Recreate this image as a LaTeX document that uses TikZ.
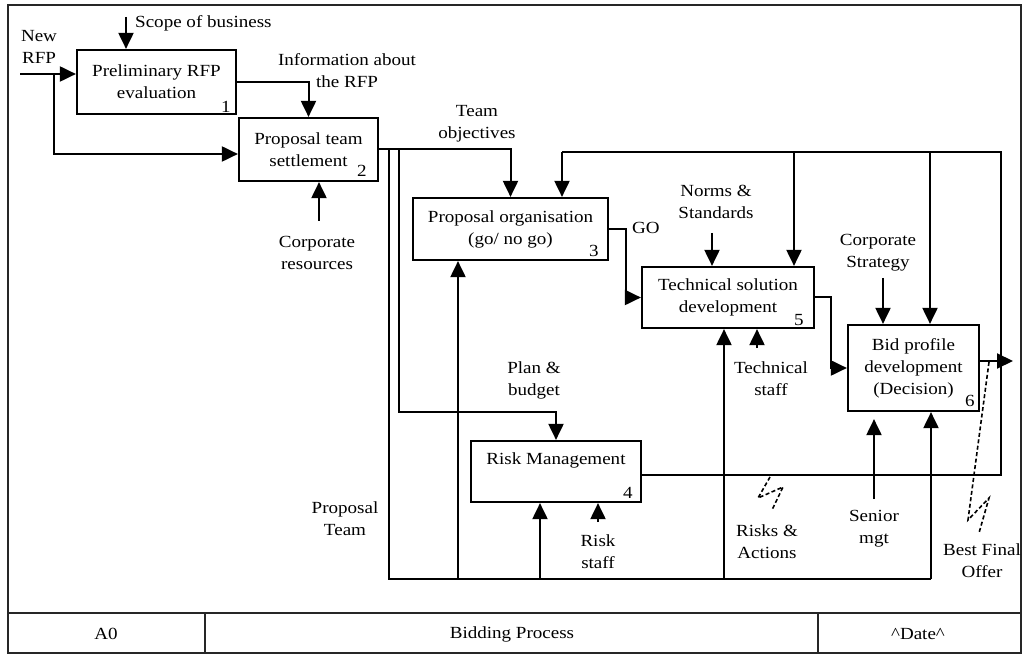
\documentclass[tikz,border=0pt]{standalone}
\usepackage{fontspec}
\setmainfont{Liberation Serif}[FakeStretch=1.12]
\usetikzlibrary{arrows.meta}

\tikzset{
  every node/.style={font=\fontsize{17}{22}\selectfont},
  actbox/.style={draw, line width=2.2pt, inner sep=0pt, align=center},
  lbl/.style={inner sep=0pt, align=center},
  conn/.style={line width=2pt},
  arr/.style={conn, -{Triangle[length=16pt,width=15pt]}},
  squig/.style={line width=1.6pt, dash pattern=on 4pt off 2.5pt},
  frame/.style={line width=2.4pt, draw=black!85}
}

\begin{document}
\begin{tikzpicture}[x=1pt, y=-1pt]
\useasboundingbox (0,0) rectangle (1026,655);

% ---- outer frame and title strip ----
\draw[frame] (8,5) rectangle (1021,653);
\draw[frame] (8,613) -- (1021,613);
\draw[frame] (205,613) -- (205,653);
\draw[frame] (818,613) -- (818,653);
\node[lbl] (nodeid) at (106,634) {A0};
\node[lbl] (title) at (512,634) {Bidding Process};
\node[lbl] (date) at (918,634) {\textasciicircum Date\textasciicircum};

% ---- activity boxes ----
\node[actbox, minimum width=159pt, minimum height=64pt] (b1) at (156.5,82) {Preliminary RFP\\evaluation};
\node[actbox, minimum width=139pt, minimum height=63pt] (b2) at (308.5,149.5) {Proposal team\\settlement};
\node[actbox, minimum width=195pt, minimum height=62pt] (b3) at (510.5,229) {Proposal organisation\\(go/ no go)};
\node[actbox, minimum width=170pt, minimum height=61pt] (b4) at (556,471.5) {};
\node[actbox, minimum width=172pt, minimum height=61pt] (b5) at (728,297.5) {Technical solution\\development};
\node[actbox, minimum width=131pt, minimum height=86pt] (b6) at (913.5,368) {Bid profile\\development\\(Decision)};
\node[lbl] (b4txt) at (556,460) {Risk Management};

% box numbers
\node[lbl] (n1) at (226,107) {1};
\node[lbl] (n2) at (362,171) {2};
\node[lbl] (n3) at (594,251) {3};
\node[lbl] (n4) at (628,493) {4};
\node[lbl] (n5) at (799,320) {5};
\node[lbl] (n6) at (970,401) {6};

% ---- labels ----
\node[lbl] (lnew) at (39,47) {New\\RFP};
\node[lbl, anchor=west] (lscope) at (135,23) {Scope of business};
\node[lbl] (linfo) at (347,71) {Information about\\the RFP};
\node[lbl] (lcorpres) at (317,253) {Corporate\\resources};
\node[lbl] (lteam) at (477,124) {Team\\objectives};
\node[lbl, anchor=west] (lgo) at (632,228) {GO};
\node[lbl] (lnorms) at (716,202) {Norms \&\\Standards};
\node[lbl] (lcorpstr) at (878,253) {Corporate\\Strategy};
\node[lbl] (lplan) at (534,380) {Plan \&\\budget};
\node[lbl] (ltech) at (771,379) {Technical\\staff};
\node[lbl] (lpteam) at (345,519) {Proposal\\Team};
\node[lbl] (lrisk) at (598,552) {Risk\\staff};
\node[lbl] (lriskact) at (767,542) {Risks \&\\Actions};
\node[lbl] (lsenior) at (874,529) {Senior\\mgt};
\node[lbl] (lbest) at (982,561) {Best Final\\Offer};

% ---- inputs and controls from outside ----
\coordinate (scopeT) at (126,17);
\draw[arr] (scopeT) -- (scopeT |- b1.north);

\coordinate (rfpT) at (20,74);
\coordinate (rfpB) at (54,74);
\draw[arr] (rfpT) -- (rfpT -| b1.west);
\draw[arr] (rfpB) |- ([yshift=-4.5pt]b2.west);

\coordinate (crT) at (319,221);
\draw[arr] (crT) -- (crT |- b2.south);

\coordinate (normsT) at (712,233);
\draw[arr] (normsT) -- (normsT |- b5.north);

\coordinate (techB) at (757,348);
\draw[arr] (techB) -- (techB |- b5.south);

\coordinate (strT) at (883,278);
\draw[arr] (strT) -- (strT |- b6.north);

\coordinate (senB) at (874,499);
\draw[arr] (senB) -- ([yshift=-7pt]senB |- b6.south);

\coordinate (riskB) at (598,522);
\draw[arr] (riskB) -- (riskB |- b4.south);

% ---- box 1 to box 2 ----
\draw[arr] (b1.east) -| (b2.north);

% ---- box 2 outputs: team objectives, plan & budget, proposal team ----
\draw[arr] (b2.east) -| (b3.north);

\coordinate (ptC) at (399,149.5);
\coordinate (ptD) at (399,412);
\draw[arr] (ptC) -- (ptD) -| (b4.north);

\coordinate (ptA) at (389,149.5);
\coordinate (ptBot) at (389,579);
\coordinate (botR) at (931,579);
\draw[conn] (ptA) -- (ptBot) -- (botR);
\draw[arr] (botR) -- (botR |- b6.south);
\coordinate (j3) at (458,579);
\draw[arr] (j3) -- (j3 |- b3.south);
\coordinate (j4) at (540,579);
\draw[arr] (j4) -- (j4 |- b4.south);
\coordinate (j5) at (724,579);
\draw[arr] (j5) -- (j5 |- b5.south);

% ---- GO: box 3 to box 5 ----
\coordinate (goX) at (626,260);
\draw[arr] (b3.east) -| (goX) |- (b5.west);

% ---- box 5 to box 6 ----
\coordinate (o5X) at (831,330);
\draw[arr] (b5.east) -| (o5X) |- (b6.west);

% ---- risks & actions feedback loop ----
\coordinate (lpBR) at (1001,475);
\coordinate (lpTR) at (1001,152);
\coordinate (lpTL) at (562,152);
\draw[conn] ([yshift=-3.5pt]b4.east) -- (lpBR) -- (lpTR) -- (lpTL);
\draw[arr] (lpTL) -- (lpTL |- b3.north);
\coordinate (lp5) at (794,152);
\draw[arr] (lp5) -- (lp5 |- b5.north);
\coordinate (lp6) at (930,152);
\draw[arr] (lp6) -- (lp6 |- b6.north);

% ---- final output ----
\coordinate (outT) at (1013,361);
\draw[arr] ([yshift=7pt]b6.east) -- (outT);

% ---- squiggles tying labels to arrows ----
\draw[squig] (989,362) -- (968,520) -- (989,498) -- (979,533);
\draw[squig] (770,477) -- (758,498) -- (783,487) -- (772,510);

\end{tikzpicture}
\end{document}
